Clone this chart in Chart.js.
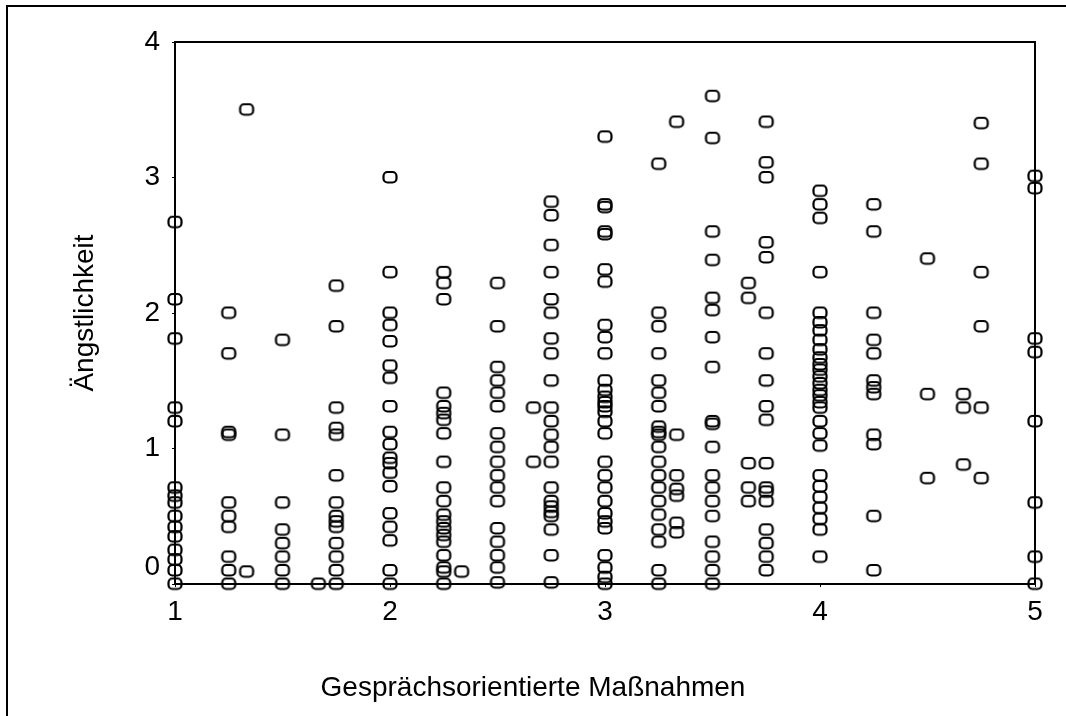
<!DOCTYPE html>
<html>
<head>
<meta charset="utf-8">
<script src="https://cdn.jsdelivr.net/npm/chart.js@4/dist/chart.umd.min.js"></script>
<style>
  html, body { margin: 0; padding: 0; background: #fff; overflow: hidden; }
  #frame { position: absolute; left: 6px; top: 5px; right: 0; bottom: 0; border-left: 2px solid #000; border-top: 2px solid #000; }
  #chart { position: absolute; left: 0; top: 0; }
</style>
</head>
<body>
<div id="frame"></div>
<canvas id="chart" width="1066" height="716"></canvas>
<script>
// Gesprächsorientierte Maßnahmen (x) vs. Ängstlichkeit (y)
const xLevels = [1, 1.25, 1.333, 1.5, 1.667, 1.75, 2, 2.25, 2.333, 2.5, 2.667, 2.75,
  3, 3.25, 3.333, 3.5, 3.667, 3.75, 4, 4.25, 4.5, 4.667, 4.75, 5];

const angstByLevel = [
  [2.67, 2.1, 1.81, 1.3, 1.2, 0.71, 0.65, 0.6, 0.5, 0.42, 0.35, 0.25, 0.18, 0.1, 0],
  [2.0, 1.7, 1.12, 1.1, 0.6, 0.5, 0.42, 0.2, 0.1, 0],
  [3.5, 0.09],
  [1.8, 1.1, 0.6, 0.4, 0.3, 0.2, 0.1, 0],
  [0],
  [2.2, 1.9, 1.3, 1.15, 1.1, 0.8, 0.6, 0.5, 0.46, 0.42, 0.3, 0.2, 0.1, 0],
  [3.0, 2.3, 2.0, 1.91, 1.79, 1.61, 1.52, 1.31, 1.12, 1.03, 0.93, 0.89, 0.82, 0.72, 0.52, 0.42, 0.32, 0.1, 0],
  [2.3, 2.22, 2.1, 1.41, 1.31, 1.26, 1.21, 1.11, 0.9, 0.71, 0.61, 0.51, 0.46, 0.41, 0.36, 0.31, 0.21, 0.12, 0.09, 0],
  [0.09],
  [2.22, 1.9, 1.6, 1.5, 1.41, 1.31, 1.11, 1.01, 0.9, 0.8, 0.71, 0.61, 0.41, 0.31, 0.21, 0.12, 0.01],
  [1.3, 0.9],
  [2.82, 2.72, 2.5, 2.3, 2.1, 2.0, 1.81, 1.7, 1.5, 1.3, 1.2, 1.1, 1.01, 0.9, 0.71, 0.61, 0.57, 0.53, 0.5, 0.4, 0.21, 0.01],
  [3.3, 2.8, 2.78, 2.6, 2.58, 2.32, 2.23, 1.91, 1.82, 1.7, 1.5, 1.43, 1.38, 1.34, 1.31, 1.27, 1.2, 1.11,
   0.9, 0.8, 0.71, 0.61, 0.52, 0.46, 0.41, 0.21, 0.12, 0.05, 0],
  [3.1, 2.0, 1.9, 1.7, 1.5, 1.41, 1.31, 1.16, 1.12, 1.1, 1.01, 0.9, 0.8, 0.71, 0.61, 0.51, 0.4, 0.31, 0.1, 0],
  [3.41, 1.1, 0.8, 0.7, 0.65, 0.45, 0.38],
  [3.6, 3.29, 2.6, 2.39, 2.11, 2.02, 1.82, 1.6, 1.2, 1.18, 1.01, 0.8, 0.71, 0.61, 0.5, 0.31, 0.2, 0.1, 0],
  [2.22, 2.11, 0.89, 0.71, 0.61],
  [3.41, 3.11, 3.0, 2.52, 2.41, 2.0, 1.7, 1.5, 1.31, 1.21, 0.89, 0.71, 0.68, 0.61, 0.4, 0.3, 0.2, 0.1],
  [2.9, 2.8, 2.7, 2.3, 2.0, 1.93, 1.87, 1.8, 1.73, 1.67, 1.62, 1.58, 1.53, 1.48, 1.43, 1.39, 1.34, 1.3,
   1.2, 1.11, 1.02, 0.8, 0.72, 0.64, 0.56, 0.48, 0.4, 0.2],
  [2.8, 2.6, 2.0, 1.8, 1.7, 1.5, 1.45, 1.4, 1.1, 1.03, 0.5, 0.1],
  [2.4, 1.4, 0.78],
  [1.4, 1.3, 0.88],
  [3.4, 3.1, 2.3, 1.9, 1.3, 0.78],
  [3.01, 2.92, 1.81, 1.71, 1.2, 0.6, 0.2, 0]
];

const xTicks = [1, 2, 3, 4, 5];
const yTicks = [0, 1, 2, 3, 4];

const points = [];
xLevels.forEach((x, i) => {
  angstByLevel[i].forEach(y => points.push({ x: x, y: y }));
});

// hollow rounded rectangle marker, a bit wider than tall
function makeMarker() {
  const c = document.createElement('canvas');
  c.width = 18;
  c.height = 15;
  const g = c.getContext('2d');
  g.strokeStyle = '#000';
  g.lineWidth = 2.2;
  g.beginPath();
  g.roundRect(2.5, 2, 13, 10.5, 4);
  g.stroke();
  return c;
}

const boxPlugin = {
  id: 'box',
  afterDatasetsDraw(chart) {
    const { ctx, chartArea: a } = chart;
    ctx.save();
    ctx.strokeStyle = '#000';
    ctx.lineWidth = 2;
    ctx.strokeRect(a.left, a.top, a.right - a.left, a.bottom - a.top);
    ctx.restore();
  }
};

const fam = '"Liberation Sans", Arial, sans-serif';
const font = { family: fam, size: 28 };

new Chart(document.getElementById('chart'), {
  type: 'scatter',
  data: {
    datasets: [{
      data: points,
      pointStyle: makeMarker(),
      pointRadius: 8,
      pointHoverRadius: 8,
      clip: false
    }]
  },
  options: {
    responsive: false,
    animation: false,
    layout: { padding: { left: 0, top: 42, right: 0, bottom: 0 } },
    plugins: {
      legend: { display: false },
      tooltip: { enabled: false },
      title: {
        display: true,
        position: 'bottom',
        text: 'Gesprächsorientierte Maßnahmen',
        color: '#000',
        font: { family: fam, size: 28, weight: 'normal' },
        padding: { top: 0, bottom: 11 }
      }
    },
    scales: {
      x: {
        type: 'linear',
        min: 1,
        max: 5,
        afterBuildTicks: s => { s.ticks = xTicks.map(v => ({ value: v })); },
        afterFit: s => { s.height = 87.4; },
        grid: { drawOnChartArea: false, tickLength: 3, color: '#000', lineWidth: 1 },
        border: { display: true, color: '#000', width: 2 },
        ticks: { color: '#000', font: font, padding: 8, maxRotation: 0 }
      },
      y: {
        type: 'linear',
        min: 0,
        max: 4,
        afterBuildTicks: s => { s.ticks = yTicks.map(v => ({ value: v })); },
        afterFit: s => { s.width = 175; },
        grid: { drawOnChartArea: false, tickLength: 3, color: '#000', lineWidth: 1 },
        border: { display: true, color: '#000', width: 2 },
        ticks: {
          color: '#000',
          font: font,
          padding: 12,
          callback: v => (v === 0 ? ['0', ''] : String(v))
        },
        title: {
          display: true,
          text: 'Ängstlichkeit',
          color: '#000',
          font: { family: fam, size: 28 },
          padding: { top: 68, bottom: 0 }
        }
      },
      // empty right-hand strip so the bottom title centres on the whole page
      y2: {
        type: 'linear',
        position: 'right',
        afterFit: s => { s.width = 31; },
        grid: { display: false },
        border: { display: false },
        ticks: { display: false }
      }
    }
  },
  plugins: [boxPlugin]
});
</script>
</body>
</html>
